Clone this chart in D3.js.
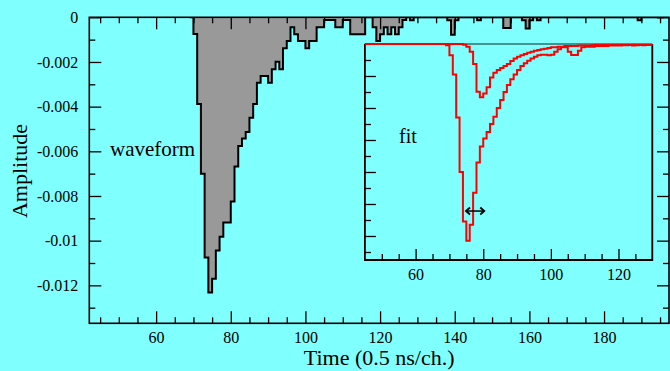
<!DOCTYPE html>
<html>
<head>
<meta charset="utf-8">
<script src="https://cdn.jsdelivr.net/npm/d3@7"></script>
<style>
  html, body { margin: 0; padding: 0; background: #80ffff; overflow: hidden; }
  svg text { font-family: "Liberation Serif", "Times New Roman", serif; fill: #000; }
</style>
</head>
<body>
<svg id="chart" width="670" height="371"></svg>
<script>
// Digitised waveform: one amplitude per channel, first channel = waveStart
const waveStart = 69;
const waveAmp = [
  0, -0.00075, -0.00388, -0.0070, -0.01075, -0.01232, -0.0117, -0.01044, -0.00982, -0.00919,
  -0.00919, -0.00825, -0.00668, -0.00576, -0.00543, -0.00513, -0.0045, -0.00388, -0.00293, -0.00263,
  -0.00263, -0.00293, -0.00233, -0.00199, -0.00233, -0.00139, -0.00106, -0.00045, -0.00076, -0.00106,
  -0.00106, -0.00139, -0.00106, -0.00106, -0.00045, -0.00045, -0.00012, -0.00012, -0.00012, -0.00045,
  -0.00045, -0.00012, -0.00012, -0.00076, -0.00076, -0.00076, -0.00076, 0, 0, -0.00045,
  -0.00106, -0.00076, -0.00045, -0.00076, -0.00045, -0.00076, -0.00045, -0.00012, 0, -0.00013,
  0, 0, 0, 0, 0, 0, 0, 0, 0, -0.00013,
  -0.00078, -0.00013, 0, 0, 0, 0, 0, -0.00013, 0, 0,
  0, 0, 0, 0, -0.00048, -0.00048, 0, 0, 0, -0.00013,
  -0.0005, -0.00013, 0, -0.00013, 0, 0, 0, 0, 0, 0,
  0, 0, 0, 0, 0, 0, 0, 0, 0, 0,
  0, 0, 0, 0, 0, 0, 0, 0, 0, 0,
  -0.00013, 0, 0, 0, 0, 0, 0
];

// Fitted pulses shown in the inset, first channel = fitStart
const fitStart = 45;
const fitNarrow = [
  0, 0, 0, 0, 0, 0, 0, 0, 0, 0, 0, 0, 0, 0, 0, 0, 0, 0, 0, 0, 0, 0, 0, 0,
  -0.00008, -0.0007, -0.0019, -0.0046, -0.0080, -0.0111, -0.0123, -0.0113, -0.0093, -0.0074,
  -0.0064, -0.0059, -0.0055, -0.0050, -0.00454, -0.0040, -0.0035, -0.0030, -0.00256, -0.0022,
  -0.0019, -0.00163, -0.00138, -0.0012, -0.00104, -0.0009, -0.0008, -0.0007, -0.00067, -0.00067,
  -0.0007, -0.00067, -0.00048, -0.00033, -0.0002, -0.0002, -0.00048, -0.00069, -0.00069, -0.00042,
  -0.0002, -0.00017, -0.00017, -0.00017, -0.00013, -0.00013, -0.00013, -0.00013, -0.0001, -0.0001,
  -0.0001, -0.0001, -0.00008, -0.00008, -0.00006, -0.0001, -0.00008, -0.00006, -0.00008, -0.00006,
  -0.00006
];
const fitWide = [
  0, 0, 0, 0, 0, 0, 0, 0, 0, 0, 0, 0, 0, 0, 0, 0, 0, 0, 0, 0, 0, 0, 0, 0, 0, 0, 0, 0, 0,
  -0.00005, -0.00017, -0.00048, -0.00125, -0.00298, -0.00333, -0.0031, -0.0027, -0.0021, -0.0018,
  -0.00163, -0.0015, -0.00138, -0.00125, -0.00106, -0.0009, -0.0008, -0.0007, -0.00063, -0.00054,
  -0.00048, -0.00042, -0.00038, -0.00033, -0.00029, -0.00025, -0.00021, -0.00021, -0.00017, -0.00017,
  -0.00013, -0.00013, -0.00013, -0.00013, -0.0001, -0.0001, -0.0001, -0.0001, -0.00008, -0.00006,
  -0.00008, -0.00006, -0.00006, -0.00006, -0.00006, -0.00006, -0.00006, -0.00006, -0.00006, -0.00006,
  -0.00006, -0.00006, -0.00006, -0.00006, -0.00006, -0.00006
];

// Width marker drawn across the narrow pulse (channels, amplitude level)
const widthMarker = [74.9, 80.3];
const widthLevel = -0.01044;

// Tick values
const xMajor = [60, 80, 100, 120, 140, 160, 180];
const yMajor = [0, -0.002, -0.004, -0.006, -0.008, -0.01, -0.012];
const insetXMajor = [60, 80, 100, 120];

const FONT = '"Liberation Serif", "Times New Roman", serif';
const svg = d3.select("#chart");
svg.append("rect").attr("width", 670).attr("height", 371).attr("fill", "#80ffff");

// ---------- main panel ----------
const x = d3.scaleLinear().domain([42.1, 197.4]).range([89.3, 669]);
const y = d3.scaleLinear().domain([-0.0137, 0]).range([323.3, 17.3]);

const defs = svg.append("defs");
defs.append("clipPath").attr("id", "clipMain").append("rect")
  .attr("x", x.range()[0]).attr("y", y.range()[1])
  .attr("width", x.range()[1] - x.range()[0]).attr("height", y.range()[0] - y.range()[1]);

const wavePts = waveAmp.map((v, i) => [waveStart + i, v]);
wavePts.push([waveStart + waveAmp.length, waveAmp[waveAmp.length - 1]]);

const area = d3.area().curve(d3.curveStepAfter)
  .x(d => x(d[0])).y0(y(0)).y1(d => y(d[1]));
const line = d3.line().curve(d3.curveStepAfter)
  .x(d => x(d[0])).y(d => y(d[1]));

const gMain = svg.append("g").attr("clip-path", "url(#clipMain)");
gMain.append("path").datum(wavePts).attr("d", area).attr("fill", "#999999");
gMain.append("path").datum(wavePts).attr("d", line)
  .attr("fill", "none").attr("stroke", "#000").attr("stroke-width", 2)
  .attr("stroke-linejoin", "miter");

function finish(g, size) {
  g.select(".domain").remove();
  g.attr("font-family", FONT).attr("font-size", size || 16);
  g.selectAll(".tick line").attr("stroke", "#000").attr("stroke-width", 1.3);
  g.selectAll(".tick text").attr("fill", "#000");
}

const xMinor = d3.range(45, 198, 5).filter(v => !xMajor.includes(v));
const yMinor = d3.range(-0.001, -0.0137, -0.002);
const [x0, x1] = x.range();
const [yb, yt] = y.range();

// bottom
svg.append("g").attr("transform", `translate(0,${yb})`)
  .call(d3.axisBottom(x).tickValues(xMajor).tickSize(-12).tickPadding(8)).call(finish);
svg.append("g").attr("transform", `translate(0,${yb})`)
  .call(d3.axisBottom(x).tickValues(xMinor).tickSize(-6).tickFormat("")).call(finish);
// top
svg.append("g").attr("transform", `translate(0,${yt})`)
  .call(d3.axisTop(x).tickValues(xMajor).tickSize(-12).tickFormat("")).call(finish);
svg.append("g").attr("transform", `translate(0,${yt})`)
  .call(d3.axisTop(x).tickValues(xMinor).tickSize(-6).tickFormat("")).call(finish);
// left
svg.append("g").attr("transform", `translate(${x0},0)`)
  .call(d3.axisLeft(y).tickValues(yMajor).tickSize(-12).tickPadding(11).tickFormat(v => String(v)))
  .call(finish);
svg.append("g").attr("transform", `translate(${x0},0)`)
  .call(d3.axisLeft(y).tickValues(yMinor).tickSize(-6).tickFormat("")).call(finish);
// right
svg.append("g").attr("transform", `translate(${x1},0)`)
  .call(d3.axisRight(y).tickValues(yMajor).tickSize(-12).tickFormat("")).call(finish);
svg.append("g").attr("transform", `translate(${x1},0)`)
  .call(d3.axisRight(y).tickValues(yMinor).tickSize(-6).tickFormat("")).call(finish);

svg.append("rect").attr("x", x0).attr("y", yt).attr("width", x1 - x0).attr("height", yb - yt)
  .attr("fill", "none").attr("stroke", "#000").attr("stroke-width", 1.6);

svg.append("text").attr("transform", "translate(27,171) rotate(-90)")
  .attr("text-anchor", "middle").attr("font-size", 22).text("Amplitude");
svg.append("text").attr("x", (x0 + x1) / 2).attr("y", 365)
  .attr("text-anchor", "middle").attr("font-size", 22).text("Time (0.5 ns/ch.)");
svg.append("text").attr("x", 110).attr("y", 156).attr("font-size", 21).text("waveform");

// ---------- inset ----------
const xi = d3.scaleLinear().domain([45, 130]).range([364.9, 652.3]);
const yi = d3.scaleLinear().domain([-0.0135, 0]).range([260, 44]);
const [xi0, xi1] = xi.range();
const [yib, yit] = yi.range();

svg.append("rect").attr("x", xi0).attr("y", yit).attr("width", xi1 - xi0).attr("height", yib - yit)
  .attr("fill", "#80ffff").attr("stroke", "none");
// frame: dark left/bottom/right edges, softer top edge
svg.append("path")
  .attr("d", `M${xi0},${yit}V${yib}H${xi1}V${yit}`)
  .attr("fill", "none").attr("stroke", "#000").attr("stroke-width", 1.8);
svg.append("line").attr("x1", xi0).attr("x2", xi1).attr("y1", yit).attr("y2", yit)
  .attr("stroke", "#2f6f6f").attr("stroke-width", 1.6);

const insetXMinor = d3.range(50, 130, 5).filter(v => !insetXMajor.includes(v));
const insetYMajor = d3.range(-0.002, -0.0135, -0.002);
const insetYMinor = d3.range(-0.001, -0.0135, -0.002);

svg.append("g").attr("transform", `translate(0,${yib})`)
  .call(d3.axisBottom(xi).tickValues(insetXMajor).tickSize(-11).tickPadding(9)).call(finish);
svg.append("g").attr("transform", `translate(0,${yib})`)
  .call(d3.axisBottom(xi).tickValues(insetXMinor).tickSize(-6).tickFormat("")).call(finish);
svg.append("g").attr("transform", `translate(${xi0},0)`)
  .call(d3.axisLeft(yi).tickValues(insetYMajor).tickSize(-11).tickFormat("")).call(finish);
svg.append("g").attr("transform", `translate(${xi0},0)`)
  .call(d3.axisLeft(yi).tickValues(insetYMinor).tickSize(-6).tickFormat("")).call(finish);

const lineI = d3.line().curve(d3.curveStepAfter).x(d => xi(d[0])).y(d => yi(d[1]));
[fitWide, fitNarrow].forEach(arr => {
  const pts = arr.map((v, i) => [fitStart + i, v]);
  pts.push([fitStart + arr.length, arr[arr.length - 1]]);
  svg.append("path").datum(pts).attr("d", lineI)
    .attr("fill", "none").attr("stroke", "#ff0000").attr("stroke-width", 2);
});

// double-headed width marker
const ay = yi(widthLevel), ax0 = xi(widthMarker[0]), ax1 = xi(widthMarker[1]);
svg.append("line").attr("x1", ax0).attr("x2", ax1).attr("y1", ay).attr("y2", ay)
  .attr("stroke", "#000").attr("stroke-width", 1.5);
svg.append("path")
  .attr("d", `M${ax0 + 4},${ay - 3.5}L${ax0},${ay}L${ax0 + 4},${ay + 3.5}` +
             `M${ax1 - 4},${ay - 3.5}L${ax1},${ay}L${ax1 - 4},${ay + 3.5}`)
  .attr("fill", "none").attr("stroke", "#000").attr("stroke-width", 1.8);

svg.append("text").attr("x", 399).attr("y", 143).attr("font-size", 20).text("fit");
</script>
</body>
</html>
